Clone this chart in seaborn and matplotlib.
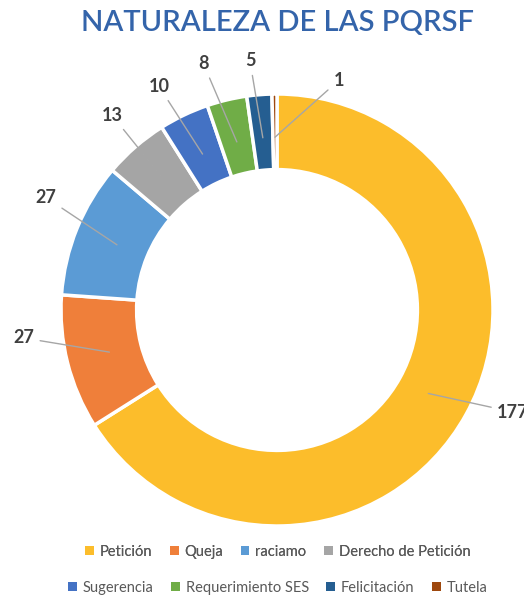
import numpy as np
import matplotlib.pyplot as plt
import seaborn as sns

sns.set_style("white")
plt.rcParams['font.family'] = ['Lato', 'DejaVu Sans']

categories = ['Petición', 'Queja', 'raciamo', 'Derecho de Petición',
              'Sugerencia', 'Requerimiento SES', 'Felicitación', 'Tutela']
counts = [177, 27, 27, 13, 10, 8, 5, 1]
colors = ['#FCBD2B', '#EF7F3A', '#5B9BD5', '#A5A5A5',
          '#4472C4', '#70AD47', '#255E91', '#9E480E']

W, H = 524, 596
fig = plt.figure(figsize=(W / 100, H / 100), dpi=100)
ax = fig.add_axes([0, 0, 1, 1])

cx, cy, R = 277, 286, 216
wedges, _ = ax.pie(counts, colors=colors, startangle=90, counterclock=False,
                   center=(cx, cy), radius=R,
                   wedgeprops=dict(width=R * 0.35, edgecolor='white', linewidth=2.5))
ax.set_xlim(0, W)
ax.set_ylim(0, H)
ax.set_aspect('equal')
ax.axis('off')

# data labels with leader lines (angle shift in degrees, label radius factor)
shift = [5.5, -7.8, -3.8, -0.7, 2.3, 3.2, 1.5, -15.7]
rfac = [1.19, 1.18, 1.19, 1.18, 1.17, 1.19, 1.16, 1.10]
for i, (w, v) in enumerate(zip(wedges, counts)):
    ang = np.deg2rad((w.theta1 + w.theta2) / 2)
    ang_t = ang + np.deg2rad(shift[i])
    r_pt = R * 0.8
    r_tx = R * rfac[i]
    px, py = cx + r_pt * np.cos(ang), cy + r_pt * np.sin(ang)
    tx, ty = cx + r_tx * np.cos(ang_t), cy + r_tx * np.sin(ang_t)
    ax.annotate(str(v), xy=(px, py), xytext=(tx, ty), ha='center', va='center',
                fontsize=13, fontweight='bold', color='#404040',
                arrowprops=dict(arrowstyle='-', color='#A6A6A6', lw=1,
                                shrinkA=2, shrinkB=0))

fig.text(0.53, 0.962, 'NATURALEZA DE LAS PQRSF', ha='center', va='center',
         fontsize=21, fontweight='semibold', color='#3464AA')

leg1 = fig.legend(wedges[:4], categories[:4], loc='center', bbox_to_anchor=(0.53, 0.074),
                  ncol=4, frameon=False, fontsize=10.5, handlelength=0.6, handleheight=0.6,
                  handletextpad=0.4, columnspacing=1.2, labelcolor='#595959')
for h in leg1.legend_handles:
    h.set_edgecolor('none')
fig.add_artist(leg1)
leg2 = fig.legend(wedges[4:], categories[4:], loc='center', bbox_to_anchor=(0.53, 0.014),
                  ncol=4, frameon=False, fontsize=10.5, handlelength=0.6, handleheight=0.6,
                  handletextpad=0.4, columnspacing=1.2, labelcolor='#595959')
for h in leg2.legend_handles:
    h.set_edgecolor('none')

fig.savefig('out.png', dpi=100)
